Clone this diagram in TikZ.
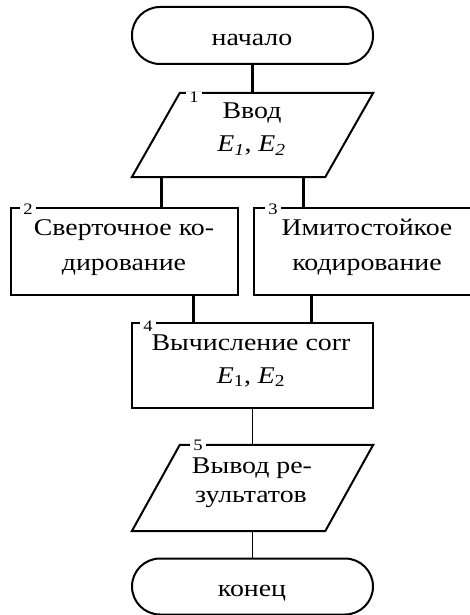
\documentclass[tikz,border=0pt]{standalone}
\usepackage{fontspec}
\setmainfont{Liberation Serif}
\newfontfamily\dfont[FakeStretch=1.16]{Liberation Serif}
\begin{document}
\begin{tikzpicture}[x=1pt,y=-1pt,
  box/.style={draw,line width=2pt,rectangle,inner sep=0pt},
  term/.style={draw,line width=2pt,rectangle,rounded corners=28pt,inner sep=0pt},
  slot/.style={rectangle,inner sep=0pt},
  para/.style={line width=2pt,line join=miter},
  thick link/.style={line width=3pt},
  thin link/.style={line width=1.5pt},
  num/.style={fill=white,inner xsep=3pt,inner ysep=0pt,font=\dfont\fontsize{16}{16}\selectfont},
  txt/.style={inner sep=0pt,anchor=base,font=\dfont\fontsize{24}{28}\selectfont}]
\useasboundingbox (0,0) rectangle (470,615);
% shapes
\node[term,minimum width=241pt,minimum height=57pt] (start) at (252.5,35.5) {};
\node[slot,minimum width=241pt,minimum height=84pt] (p1) at (252.5,135) {};
\node[box,minimum width=227pt,minimum height=87pt] (b2) at (124.5,251.5) {};
\node[box,minimum width=226pt,minimum height=87pt] (b3) at (367,251.5) {};
\node[box,minimum width=241pt,minimum height=85pt] (b4) at (252.5,365.5) {};
\node[slot,minimum width=241pt,minimum height=86pt] (p5) at (252.5,488) {};
\node[term,minimum width=241pt,minimum height=56pt] (end) at (252.5,586.5) {};
\draw[para] ([xshift=48pt]p1.north west) -- (p1.north east) -- ([xshift=-48pt]p1.south east) -- (p1.south west) -- cycle;
\draw[para] ([xshift=48pt]p5.north west) -- (p5.north east) -- ([xshift=-48pt]p5.south east) -- (p5.south west) -- cycle;
% connectors
\draw[thick link] (start.south) -- (p1.north);
\draw[thick link] ([xshift=30pt]p1.south west) -- ([xshift=30pt]p1.south west |- b2.north);
\draw[thick link] ([xshift=-70pt]p1.south east) -- ([xshift=-70pt]p1.south east |- b3.north);
\draw[thick link] ([xshift=-46pt]b2.south east) -- ([xshift=-46pt]b2.south east |- b4.north);
\draw[thick link] ([xshift=58pt]b3.south west) -- ([xshift=58pt]b3.south west |- b4.north);
\draw[thin link] (b4.south) -- (p5.north);
\draw[thin link] (p5.south) -- (end.north);
% block numbers
\node[num] (n1) at (194,97) {1};
\node[num] (n2) at (28,209) {2};
\node[num] (n3) at (273,209) {3};
\node[num] (n4) at (148,326) {4};
\node[num] (n5) at (198,445) {5};
% texts
\node[txt] (t0) at (252,46) {начало};
\node[txt] (t1a) at (252,118) {Ввод};
\node[txt] (t1b) at (251.5,151.5) {\textit{E\textsubscript{1}}, \textit{E\textsubscript{2}}};
\node[txt] (t2a) at (124,235) {Сверточное ко-};
\node[txt] (t2b) at (124,270) {дирование};
\node[txt] (t3a) at (367,235) {Имитостойкое};
\node[txt] (t3b) at (367,270) {кодирование};
\node[txt] (t4a) at (251,350) {Вычисление corr};
\node[txt] (t4b) at (251,383) {\textit{E}\textsubscript{1}, \textit{E}\textsubscript{2}};
\node[txt] (t5a) at (252,473) {Вывод ре-};
\node[txt] (t5b) at (251,502.5) {зультатов};
\node[txt] (t6) at (252,596) {конец};
\end{tikzpicture}
\end{document}
